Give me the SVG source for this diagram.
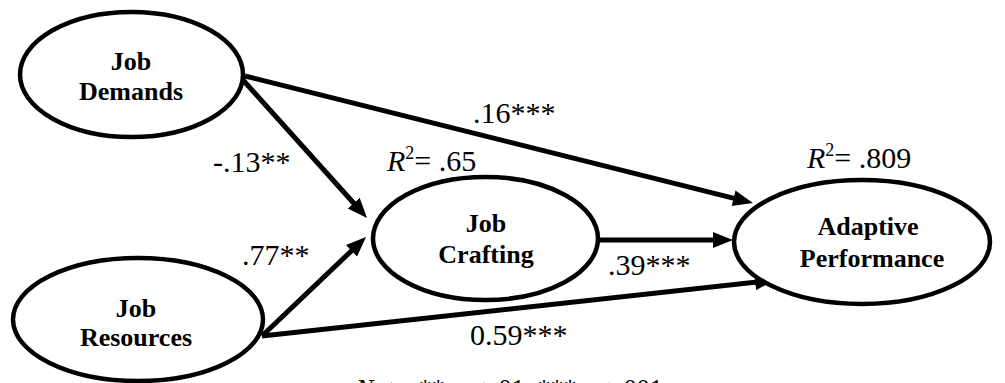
<svg xmlns="http://www.w3.org/2000/svg" width="1005" height="383" viewBox="0 0 1005 383">
<style>
  .node ellipse { fill: #fff; stroke: #000; stroke-width: 4.5; }
  .nt { font-family: 'Liberation Serif', 'Times New Roman', serif; font-weight: bold; font-size: 26px; text-anchor: middle; fill: #000; }
  .lbl { font-family: 'Liberation Serif', 'Times New Roman', serif; font-size: 30px; fill: #000; }
  .note { font-family: 'Liberation Serif', 'Times New Roman', serif; font-size: 26px; fill: #000; }
  .edge { stroke: #000; stroke-width: 5; fill: none; marker-end: url(#arr); }
</style>
<defs>
  <marker id="arr" markerUnits="userSpaceOnUse" markerWidth="22" markerHeight="18" refX="12" refY="8" orient="auto">
    <path d="M0,0 L20,8 L0,16 z" fill="#000"/>
  </marker>
</defs>
<rect width="1005" height="383" fill="#fff"/>
<g id="connectors">
  <line class="edge" x1="245" y1="76" x2="745.2" y2="201.1"/>
  <line class="edge" x1="243" y1="80" x2="361.7" y2="212"/>
  <line class="edge" x1="262" y1="336" x2="360.2" y2="242.5"/>
  <line class="edge" x1="262" y1="336" x2="767" y2="280.9"/>
  <line class="edge" x1="598" y1="240" x2="725" y2="240"/>
</g>
<g id="job-demands" class="node">
  <ellipse cx="131.5" cy="74.5" rx="111.5" ry="62.5"/>
  <text class="nt" x="131" y="70">Job</text>
  <text class="nt" x="131" y="100">Demands</text>
</g>
<g id="job-resources" class="node">
  <ellipse cx="138" cy="319.5" rx="125" ry="61.5"/>
  <text class="nt" x="136" y="317">Job</text>
  <text class="nt" x="136" y="346">Resources</text>
</g>
<g id="job-crafting" class="node">
  <ellipse cx="485.5" cy="238.5" rx="112.5" ry="61.5"/>
  <text class="nt" x="486" y="232">Job</text>
  <text class="nt" x="486" y="263">Crafting</text>
</g>
<g id="adaptive-performance" class="node">
  <ellipse cx="862" cy="242" rx="128" ry="62"/>
  <text class="nt" x="868" y="235">Adaptive</text>
  <text class="nt" x="872" y="267">Performance</text>
</g>
<g id="labels">
  <text class="lbl" x="473" y="123">.16***</text>
  <text class="lbl" x="213" y="172">-.13**</text>
  <text class="lbl" x="242" y="265">.77**</text>
  <text class="lbl" x="608" y="275">.39***</text>
  <text class="lbl" x="470" y="345">0.59***</text>
  <text class="lbl" x="387" y="171"><tspan font-style="italic">R</tspan><tspan font-size="18" dy="-12">2</tspan><tspan dy="12">= .65</tspan></text>
  <text class="lbl" x="807" y="168"><tspan font-style="italic">R</tspan><tspan font-size="18" dy="-12">2</tspan><tspan dy="12">= .809</tspan></text>
  <text class="note" x="356" y="397"><tspan font-style="italic">Note</tspan>: ** <tspan font-style="italic">p</tspan> &lt; .01, ***<tspan font-style="italic">p</tspan> &lt; .001</text>
</g>
</svg>
